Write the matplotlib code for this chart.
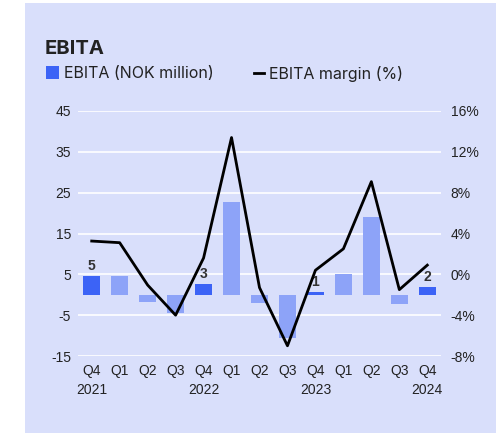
import matplotlib
matplotlib.use("Agg")
import matplotlib.pyplot as plt
from matplotlib.patches import Rectangle
from matplotlib.lines import Line2D

quarters = ["Q4", "Q1", "Q2", "Q3", "Q4", "Q1", "Q2", "Q3", "Q4", "Q1", "Q2", "Q3", "Q4"]
years = ["2021", "", "", "", "2022", "", "", "", "2023", "", "", "", "2024"]
ebita = [4.6, 4.6, -1.7, -4.5, 2.6, 22.7, -2.0, -10.5, 0.7, 5.1, 19.1, -2.2, 1.9]
margin = [3.26, 3.1, -1.05, -4.0, 1.6, 13.4, -1.3, -7.0, 0.4, 2.5, 9.08, -1.5, 0.9]
highlight = [True, False, False, False, True, False, False, False, True, False, False, False, True]
bar_labels = ["5", "", "", "", "3", "", "", "", "1", "", "", "", "2"]
left_ticks = [-15, -5, 5, 15, 25, 35, 45]
right_ticks = [-8, -4, 0, 4, 8, 12, 16]

PANEL = "#D9DFFB"
DARK = "#3C63F6"
LIGHT = "#8DA3F8"
TXT = "#222222"

fig = plt.figure(figsize=(5.04, 4.33), dpi=100)
fig.patch.set_facecolor("white")
W, H = 504, 433
fig.patches.append(Rectangle((25 / W, 0), (496 - 25) / W, (433 - 3) / H,
                             transform=fig.transFigure, facecolor=PANEL,
                             edgecolor="none", zorder=-10))

ax = fig.add_axes([78 / W, (433 - 356) / H, (441 - 78) / W, (356 - 111) / H])
ax.set_facecolor("none")
ax2 = ax.twinx()

x = list(range(len(quarters)))
colors = [DARK if h else LIGHT for h in highlight]
ax.bar(x, ebita, width=0.6, color=colors, zorder=2)
for xi, v, lab in zip(x, ebita, bar_labels):
    if lab:
        ax.annotate(lab, (xi, v), xytext=(0, 2), textcoords="offset points",
                    ha="center", va="bottom", fontsize=10, fontweight="bold",
                    color="#333333", family="Liberation Sans", zorder=5)

ax.set_ylim(-15, 45)
ax.set_xlim(-0.49, 12.49)
ax.set_yticks(left_ticks)
ax.set_yticklabels([str(t) for t in left_ticks])
ax.grid(axis="y", color="white", linewidth=1.2, zorder=0)
ax.set_axisbelow(True)

ax2.plot(x, margin, color="black", linewidth=2.0, zorder=4)
ax2.set_ylim(-8, 16)
ax2.set_yticks(right_ticks)
ax2.set_yticklabels([f"{t}%" for t in right_ticks])

labels = [q + ("\n" + y if y else "") for q, y in zip(quarters, years)]
ax.set_xticks(x)
ax.set_xticklabels(labels, linespacing=1.45)

for a in (ax, ax2):
    for s in a.spines.values():
        s.set_visible(False)
    a.tick_params(length=0, labelsize=10, labelcolor=TXT)
    for t in a.get_yticklabels() + a.get_xticklabels():
        t.set_family("Liberation Sans")
ax.tick_params(axis="y", pad=5)
ax2.tick_params(axis="y", pad=7)
ax.tick_params(axis="x", pad=6)
for t in ax.get_xticklabels():
    t.set_verticalalignment("top")

fig.text(45 / W, 1 - 54 / H, "EBITA", fontsize=14.5, fontweight="bold",
         color=TXT, family="Inter", va="baseline")
fig.patches.append(Rectangle((46 / W, 1 - 79 / H), 13 / W, 13 / H,
                             transform=fig.transFigure, facecolor=DARK,
                             edgecolor="none"))
fig.text(64 / W, 1 - 78.5 / H, "EBITA (NOK million)", fontsize=11.5, color=TXT,
         family="Inter", va="baseline")
fig.lines.append(Line2D([254 / W, 263.5 / W], [1 - 72.5 / H, 1 - 72.5 / H],
                        transform=fig.transFigure, color="black", linewidth=2))
fig.text(269 / W, 1 - 78.5 / H, "EBITA margin (%)", fontsize=11.5, color=TXT,
         family="Inter", va="baseline")

fig.savefig("out.png", dpi=100, facecolor="white")
